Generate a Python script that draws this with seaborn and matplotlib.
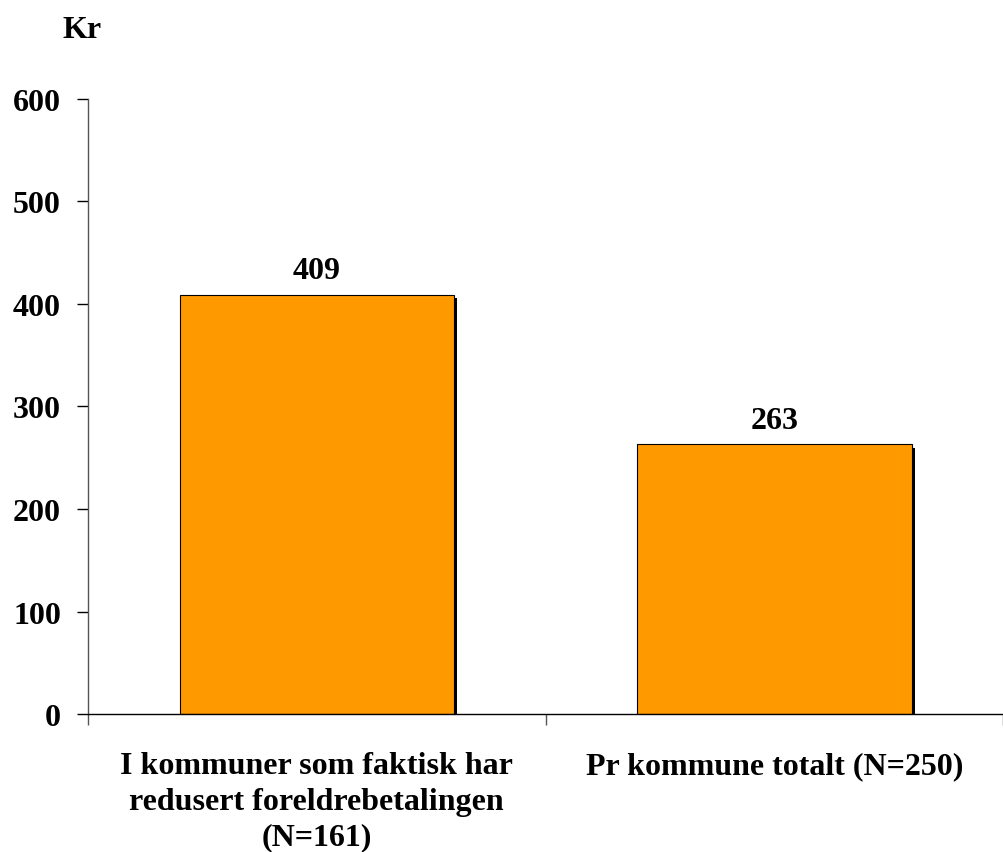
import pandas as pd
import matplotlib.pyplot as plt
import matplotlib.patheffects as pe
import seaborn as sns

# data
categories = ['I kommuner som faktisk har\nredusert foreldrebetalingen\n(N=161)',
              'Pr kommune totalt (N=250)']
values = [409, 263]
yticks = [0, 100, 200, 300, 400, 500, 600]

df = pd.DataFrame({'kategori': categories, 'kr': values})

sns.set_style('white')
plt.rcParams['font.family'] = ['Liberation Serif', 'DejaVu Serif']
plt.rcParams['font.weight'] = 'bold'
plt.rcParams['text.color'] = 'black'
plt.rcParams['xtick.color'] = 'black'
plt.rcParams['ytick.color'] = 'black'

FS = 23

fig = plt.figure(figsize=(10.04, 8.53), dpi=100)
ax = fig.add_axes([88 / 1004, 1 - 715 / 853, (1003 - 88) / 1004, (715 - 100) / 853])

sns.barplot(data=df, x='kategori', y='kr', color='#FF9900', width=0.6,
            edgecolor='black', linewidth=0.8, saturation=1, ax=ax)

# drop shadow on the bars
for bar in ax.patches:
    bar.set_path_effects([pe.SimplePatchShadow(offset=(2.5, -2.5), shadow_rgbFace='black', alpha=1),
                          pe.Normal()])

# value labels
for bar, v in zip(ax.patches, values):
    ax.annotate(str(v), (bar.get_x() + bar.get_width() / 2, v),
                xytext=(0, 12), textcoords='offset points',
                ha='center', va='baseline', fontsize=FS, fontweight='bold')

ax.set_xlim(-0.5, 1.5)
ax.set_ylim(0, 600)
ax.set_yticks(yticks)
ax.set_yticklabels([str(t) for t in yticks], fontsize=FS, fontweight='bold')
ax.set_xticks([0, 1])
ax.set_xticklabels(categories, fontsize=FS, fontweight='bold', linespacing=1.3)
ax.tick_params(axis='x', length=0, pad=27)
ax.tick_params(axis='y', length=8, width=1, color='black', direction='out', pad=11.5, left=True)

# ticks at category boundaries on x axis
ax.set_xticks([-0.5, 0.5, 1.5], minor=True)
ax.tick_params(axis='x', which='minor', length=8, width=1, color='#555555', direction='out', bottom=True)

ax.set_xlabel('')
ax.set_ylabel('')
for s in ['top', 'right']:
    ax.spines[s].set_visible(False)
ax.spines['left'].set_color('#555555')
ax.spines['bottom'].set_color('black')
ax.spines['left'].set_linewidth(1)
ax.spines['bottom'].set_linewidth(1)

fig.text(63 / 1004, 1 - 38 / 853, 'Kr', fontsize=FS, fontweight='bold', ha='left', va='baseline')

fig.savefig('out.png', dpi=100)
